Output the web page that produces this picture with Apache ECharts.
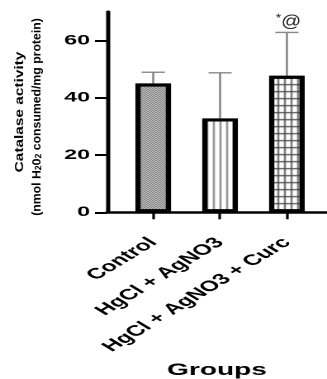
<!DOCTYPE html>
<html>
<head>
<meta charset="utf-8">
<script src="https://cdn.jsdelivr.net/npm/echarts@6/dist/echarts.min.js"></script>
<style>
html,body{margin:0;padding:0;background:#fff;}
#wrap{width:327px;height:379px;overflow:hidden;position:relative;}
#chart{width:198px;height:379px;transform:scaleX(1.6515);transform-origin:0 0;}
</style>
</head>
<body>
<div id="wrap"><div id="chart"></div></div>
<script>
// ---- data ----
const categories = ['Control', 'HgCl + AgNO3', 'HgCl + AgNO3 + Curc'];
const positions = [0, 1, 2];
const means = [45, 32.8, 47.7];
const errorTops = [48.9, 48.7, 62.8];
const annotations = ['', '', '*@'];
const yTicks = [0, 20, 40, 60];
const yTitle1 = 'Catalase activity';
const xTitle = 'Groups';

// ---- fill patterns (style) ----
function makeCanvas(w, h, draw) {
  const c = document.createElement('canvas');
  c.width = w; c.height = h;
  const ctx = c.getContext('2d');
  ctx.fillStyle = '#fff'; ctx.fillRect(0, 0, w, h);
  draw(ctx);
  return c;
}
const checker = makeCanvas(2, 2, ctx => {
  ctx.fillStyle = '#444';
  ctx.fillRect(0, 0, 1, 1); ctx.fillRect(1, 1, 1, 1);
});
const stripes = makeCanvas(4, 4, ctx => {
  ctx.fillStyle = '#666';
  ctx.fillRect(1, 0, 0.9, 4);
});
const gridPat = makeCanvas(4, 7, ctx => {
  ctx.fillStyle = '#444';
  ctx.fillRect(0, 0, 0.9, 7);
  ctx.fillRect(0, 0, 4, 1.2);
});
const patterns = [checker, stripes, gridPat].map(c => ({ image: c, repeat: 'repeat' }));

const FONT = 'Liberation Sans';
const chart = echarts.init(document.getElementById('chart'), null, { renderer: 'canvas', devicePixelRatio: 2 });

const option = {
  animation: false,
  backgroundColor: '#fff',
  grid: { left: 64.8, right: 0, top: 11.8, bottom: 166.7, outerBoundsMode: 'none', containLabel: false },
  xAxis: {
    type: 'value',
    min: -0.691,
    max: 2.6,
    splitLine: { show: false },
    axisLine: { show: true, onZero: false, lineStyle: { color: '#000', width: 2.5 } },
    axisTick: { show: true, customValues: positions, length: 7, lineStyle: { color: '#000', width: 1.6 } },
    axisLabel: {
      customValues: positions,
      formatter: v => categories[Math.round(v)],
      rotate: 45,
      margin: 28,
      color: '#000',
      fontFamily: FONT,
      fontWeight: 'bold',
      fontSize: 15
    },
    name: xTitle,
    nameLocation: 'middle',
    nameGap: 155,
    nameTextStyle: { color: '#000', fontFamily: FONT, fontWeight: 'bold', fontSize: 17, verticalAlign: 'middle' }
  },
  yAxis: {
    type: 'value',
    min: 0,
    max: 70,
    interval: 20,
    splitLine: { show: false },
    axisLine: { show: true, onZero: false, lineStyle: { color: '#000', width: 2.5 } },
    axisTick: { show: true, customValues: yTicks, length: 7.3, lineStyle: { color: '#000', width: 2 } },
    axisLabel: {
      customValues: yTicks,
      margin: 10.3,
      color: '#000',
      fontFamily: FONT,
      fontWeight: 'bold',
      fontSize: 14
    }
  },
  graphic: [
    {
      type: 'text', x: 12.1, y: 112, rotation: Math.PI / 2, scaleX: 2.2,
      style: { text: yTitle1, fontFamily: FONT, fontWeight: 'bold', fontSize: 7, fill: '#000', align: 'center', verticalAlign: 'middle' }
    },
    {
      type: 'text', x: 22.4, y: 117, rotation: Math.PI / 2, scaleX: 1.75,
      style: {
        text: '(nmol H{sub|2}0{sub|2} consumed/mg protein)',
        rich: { sub: { fontSize: 5, fontFamily: FONT, fontWeight: 'bold', verticalAlign: 'bottom', lineHeight: 6 } },
        fontFamily: FONT, fontWeight: 'bold', fontSize: 7, fill: '#000', align: 'center', verticalAlign: 'middle'
      }
    }
  ],
  series: [
    {
      type: 'custom',
      z: 2,
      data: positions.map((p, i) => [p, means[i], errorTops[i], i]),
      renderItem: function (params, api) {
        const x = api.value(0), m = api.value(1), t = api.value(2), idx = api.value(3);
        const p0 = api.coord([x, m]);
        const p1 = api.coord([x, t]);
        const children = [
          { type: 'line', shape: { x1: p0[0], y1: p0[1], x2: p1[0], y2: p1[1] }, style: { stroke: '#888', lineWidth: 1.3 } },
          { type: 'line', shape: { x1: p1[0] - 7, y1: p1[1], x2: p1[0] + 7, y2: p1[1] }, style: { stroke: '#888', lineWidth: 1.4 } }
        ];
        const ann = annotations[idx];
        if (ann) {
          children.push({
            type: 'text', x: p1[0] + 1, y: p1[1] - 1.5, scaleX: 0.7,
            style: {
              text: '{s|*}{a|@}',
              rich: {
                s: { fontSize: 12, fontFamily: FONT, verticalAlign: 'top', lineHeight: 18 },
                a: { fontSize: 17, fontFamily: FONT, lineHeight: 18 }
              },
              fill: '#222', align: 'center', verticalAlign: 'bottom'
            }
          });
        }
        return { type: 'group', children: children };
      }
    },
    {
      type: 'bar',
      z: 3,
      barWidth: 21.6,
      data: positions.map((p, i) => ({
        value: [p, means[i]],
        itemStyle: { color: patterns[i], borderColor: '#000', borderWidth: 3.2 }
      }))
    }
  ]
};
chart.setOption(option);
</script>
</body>
</html>
